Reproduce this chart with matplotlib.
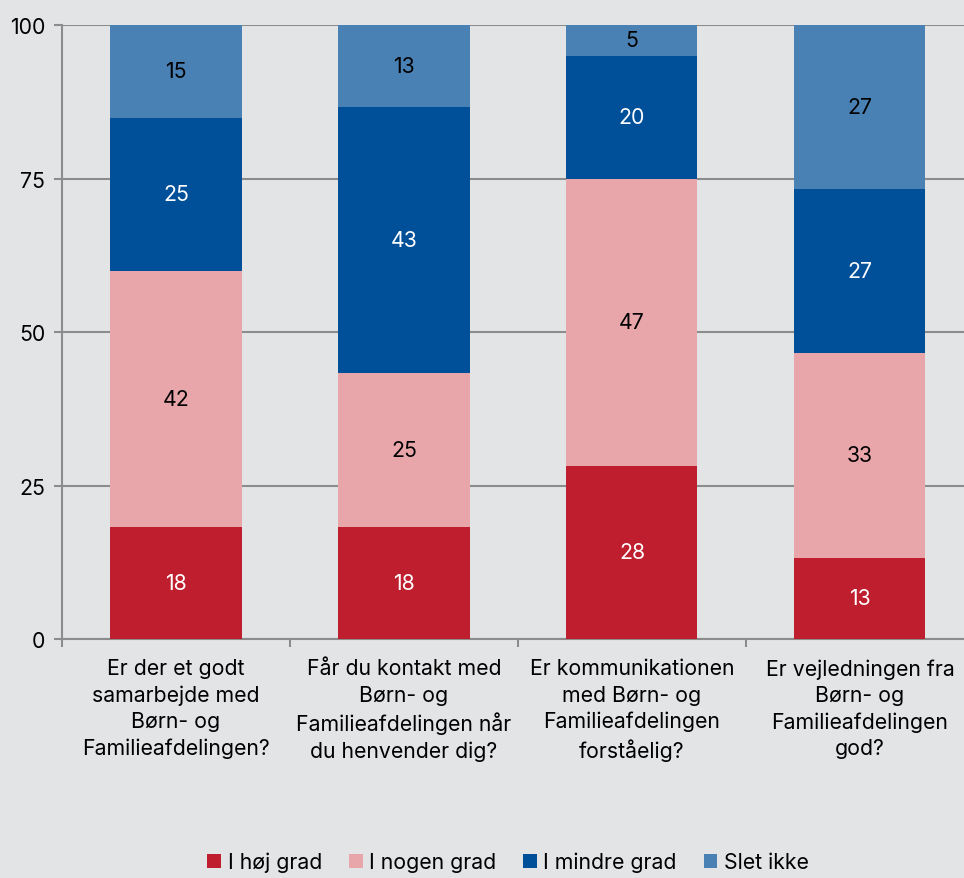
import matplotlib.pyplot as plt
import numpy as np

plt.rcParams['font.family'] = ['Inter', 'DejaVu Sans']

# Data
categories = [
    "Er der et godt\nsamarbejde med\nBørn- og\nFamilieafdelingen?",
    "Får du kontakt med\nBørn- og\nFamilieafdelingen når\ndu henvender dig?",
    "Er kommunikationen\nmed Børn- og\nFamilieafdelingen\nforståelig?",
    "Er vejledningen fra\nBørn- og\nFamilieafdelingen\ngod?",
]
series_names = ["I høj grad", "I nogen grad", "I mindre grad", "Slet ikke"]
hoej_grad = [18.2, 18.3, 28.2, 13.2]
nogen_grad = [41.7, 25.0, 46.7, 33.4]
mindre_grad = [25.0, 43.3, 20.1, 26.7]
slet_ikke = [15.1, 13.4, 5.0, 26.7]

colors = ["#be1e2d", "#e8a6ab", "#004f99", "#4a81b5"]
label_colors = ["white", "black", "white", "black"]
bg = "#e3e4e6"
fs = 15.3

fig = plt.figure(figsize=(9.64, 8.79), dpi=100, facecolor=bg)
ax = fig.add_axes([0.0643, 0.2719, 0.946, 0.6985])
ax.set_facecolor(bg)

x = np.arange(len(categories))
bottom = np.zeros(len(categories))
for name, vals, col, lc in zip(series_names, [hoej_grad, nogen_grad, mindre_grad, slet_ikke], colors, label_colors):
    vals = np.array(vals)
    ax.bar(x, vals, 0.575, bottom=bottom, color=col, label=name, zorder=3)
    for xi, b, v in zip(x, bottom, vals):
        ax.text(xi, b + v / 2, f"{v:.0f}", ha="center", va="center", color=lc, fontsize=fs, zorder=4)
    bottom += vals

ax.set_xlim(-0.5, 3.5)
ax.set_ylim(0, 100)
ax.set_yticks([0, 25, 50, 75, 100])
ax.yaxis.grid(True, color="#8c8c8c", linewidth=1.5, zorder=0)
ax.set_axisbelow(True)

for s in ["top", "right"]:
    ax.spines[s].set_visible(False)
for s in ["left", "bottom"]:
    ax.spines[s].set_color("#8c8c8c")
    ax.spines[s].set_linewidth(1.5)

ax.tick_params(axis="y", length=6, color="#8c8c8c", width=1.5, labelsize=fs, pad=6)
ax.set_xticks(np.arange(-0.5, 4, 1))
ax.set_xticklabels([])
ax.tick_params(axis="x", which="major", length=6, color="#8c8c8c", width=1.5)
ax.set_xticks(x, minor=True)
ax.set_xticklabels(categories, minor=True, fontsize=fs, linespacing=1.38)
ax.tick_params(axis="x", which="minor", length=0, pad=14)

fig.legend(loc="lower center", bbox_to_anchor=(0.527, -0.015), ncol=4, frameon=False,
           fontsize=fs, handlelength=0.65, handleheight=0.65, handletextpad=0.3, columnspacing=1.27)

fig.savefig("out.png", dpi=100, facecolor=bg)
